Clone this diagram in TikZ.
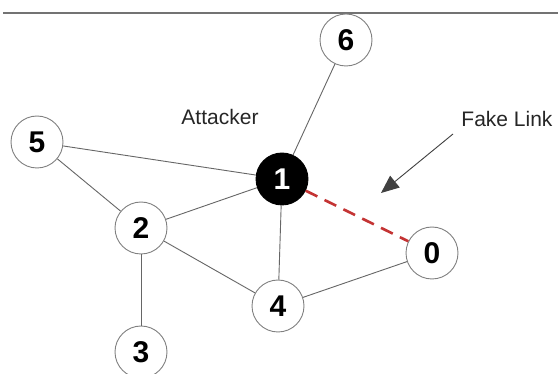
\documentclass[tikz,border=0pt]{standalone}
\usepackage{fontspec}
\setmainfont{Liberation Sans}
\usetikzlibrary{arrows.meta}
\definecolor{fakered}{RGB}{196,52,52}
\begin{document}
\begin{tikzpicture}[x=1pt,y=-1pt,
  vertex/.style={circle,draw=black!50,line width=0.9pt,fill=white,minimum size=52pt,inner sep=0pt,
    font=\fontsize{30}{30}\selectfont\bfseries},
  attackvertex/.style={vertex,fill=black,draw=black,text=white},
  edge/.style={draw=black!60,line width=0.9pt},
  fakeedge/.style={draw=fakered,line width=2.6pt,dash pattern=on 13pt off 8pt},
  label/.style={font=\fontsize{21}{21}\selectfont,text=black!85}]
\useasboundingbox (0,0) rectangle (558,374);
\clip (0,0) rectangle (558,374);
\fill[white] (0,0) rectangle (558,374);
\coordinate (tl) at (3,13);
\coordinate (tr) at (558,13);
\draw[draw=black!55,line width=1.2pt] (tl) -- (tr);
\node[vertex] (n6) at (346,40) {6};
\node[vertex] (n5) at (37,142) {5};
\node[attackvertex] (n1) at (282,179) {1};
\node[vertex] (n2) at (141,228) {2};
\node[vertex] (n0) at (432,253) {0};
\node[vertex] (n4) at (278,306) {4};
\node[vertex] (n3) at (141,352) {3};
\node[label] (att) at (220,117) {Attacker};
\node[label] (fake) at (507,119) {Fake Link};
\draw[edge] (n6) -- (n1);
\draw[edge] (n5) -- (n1);
\draw[edge] (n5) -- (n2);
\draw[edge] (n2) -- (n1);
\draw[edge] (n2) -- (n4);
\draw[edge] (n2) -- (n3);
\draw[edge] (n1) -- (n4);
\draw[edge] (n4) -- (n0);
\draw[fakeedge] (n1) -- (n0);
\coordinate (as) at (453,134);
\coordinate (ae) at (381,193);
\draw[draw=black!75,line width=0.9pt,-{Triangle[length=18pt,width=15pt]}] (as) -- (ae);
\end{tikzpicture}
\end{document}
